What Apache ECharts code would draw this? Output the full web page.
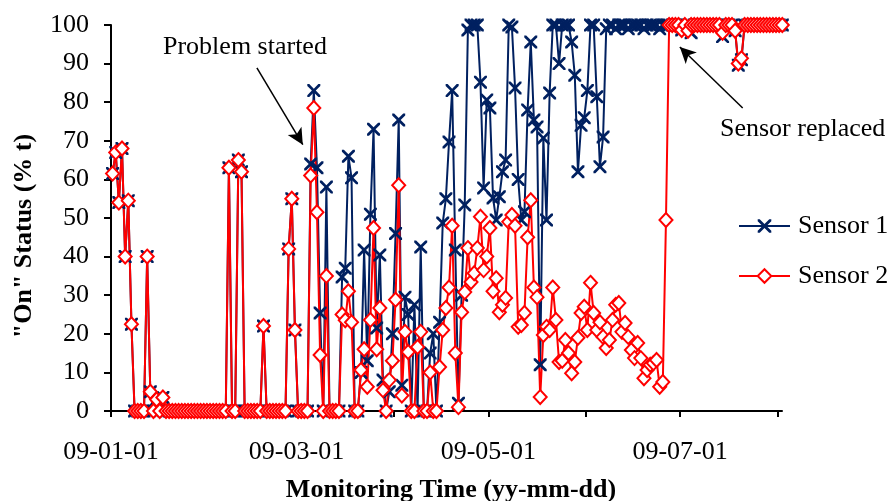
<!DOCTYPE html>
<html>
<head>
<meta charset="utf-8">
<script src="https://cdn.jsdelivr.net/npm/echarts@6/dist/echarts.min.js"></script>
<style>
  html, body { margin: 0; padding: 0; background: #fff; }
  #chart { width: 891px; height: 501px; }
</style>
</head>
<body>
<div id="chart"></div>
<script>
// daily readings starting 2009-01-01
const startDate = Date.UTC(2009, 0, 1);
const DAY = 86400000;

const sensor1 = [
  61.5, 67, 54, 68, 40, 54.5, 22.5, 0, 0, 0,
  0, 40, 5, 0, 3, 0, 3.5, 0, 0, 0,
  0, 0, 0, 0, 0, 0, 0, 0, 0, 0,
  0, 0, 0, 0, 0, 0, 0, 63, 0, 0,
  65, 62, 0, 0, 0, 0, 0, 0, 22, 0,
  0, 0, 0, 0, 0, 0, 42, 55, 21, 0,
  0, 0, 0, 64, 83, 63, 25.4, 0, 58, 0,
  0, 0, 0, 34.7, 37, 66, 60.4, 0, 0, 10,
  41.7, 13, 51, 73, 21.5, 40.4, 8, 0, 5, 20,
  46, 75.4, 6.7, 29.5, 25, 0, 27.5, 0, 42.5, 0,
  0, 15, 20, 0, 23, 48.7, 55, 69.7, 83, 41.7,
  2, 30, 53.4, 98.7, 100, 100, 100, 85.2, 57.8, 80.6,
  78.5, 55.2, 49.5, 55.5, 62, 65, 100, 99.5, 83.7, 60,
  49.5, 51.6, 78, 95.6, 75.4, 73.6, 12, 70.7, 49.5, 82.4,
  100, 100, 90, 100, 100, 100, 95.6, 87, 62, 74,
  76, 83, 100, 100, 81.4, 63.3, 71, 99, 100, 100,
  99, 100, 100, 100, 99, 100, 100, 100, 100, 99,
  100, 100, 100, 100, 99, 100, 100, 100, 100, 100,
  100, 98.7, 100, 100, 98, 100, 100, 100, 100, 100,
  100, 100, 100, 100, 97, 100, 100, 100, 98.5, 89.6,
  91, 100, 100, 100, 100, 100, 100, 100, 100, 100,
  100, 100, 100, 100
];

const sensor2 = [
  61.5, 67, 54, 68, 40, 54.5, 22.5, 0, 0, 0,
  0, 40, 5, 0, 3, 0, 3.5, 0, 0, 0,
  0, 0, 0, 0, 0, 0, 0, 0, 0, 0,
  0, 0, 0, 0, 0, 0, 0, 63, 0, 0,
  65, 62, 0, 0, 0, 0, 0, 0, 22, 0,
  0, 0, 0, 0, 0, 0, 42, 55, 21, 0,
  0, 0, 0, 61, 78.5, 51.5, 14.5, 0, 35, 0,
  0, 0, 0, 25, 23.5, 31, 23, 0, 0, 10.6,
  16, 6.3, 23.6, 47.4, 16, 26.7, 5.4, 0, 8, 13,
  28.8, 58.5, 4, 20.5, 15.3, 0, 0, 16.6, 20.5, 0,
  0, 10, 0, 0, 11.4, 21, 26.7, 32, 48, 15,
  1, 25.6, 30.8, 42.2, 33.4, 35.7, 42.2, 50.3, 36.5, 40,
  47.4, 31, 34.4, 25.6, 27.5, 29.3, 49, 50.8, 48, 21.8,
  22.3, 25.4, 45, 54.6, 32, 29.5, 3.6, 19.7, 21.8, 21,
  32, 23.6, 12.7, 13, 18.4, 15, 9.8, 12.7, 19, 25.4,
  27, 21, 33.2, 25.4, 21, 23, 19.2, 16.3, 18.4, 23.6,
  27.5, 28, 20.5, 22.8, 19.2, 15.8, 13.7, 17.6, 13.7, 8.5,
  10.6, 12, 12.4, 13.2, 6.3, 7.5, 49.5, 100, 100, 100,
  100, 98.7, 100, 98.5, 100, 100, 100, 100, 100, 100,
  100, 100, 100, 100, 98, 100, 100, 100, 98.5, 90,
  91.4, 100, 100, 100, 100, 100, 100, 100, 100, 100,
  100, 100, 100, 100
];

const yTicks = [0, 10, 20, 30, 40, 50, 60, 70, 80, 90, 100];
const tickMonths = [0, 1, 2, 3, 4, 5, 6, 7];   // month starts with a tick
const labelMonths = [0, 2, 4, 6];              // month starts with a label

const seriesNames = ['Sensor 1', 'Sensor 2'];

// annotation arrows, in [day offset, value]
const arrowProblem = [[46.4, 88.9], [61.0, 69.0]];
const arrowReplaced = [[200.9, 78.5], [180.9, 94.3]];

const monthTs = m => Date.UTC(2009, m, 1);
const dayTs = d => startDate + d * DAY;

const pts1 = sensor1.map((v, i) => [dayTs(i + 0.5), v]);
const pts2 = sensor2.map((v, i) => [dayTs(i + 0.5), v]);

const pad = n => String(n).padStart(2, '0');
const fmtDate = v => {
  const d = new Date(v);
  return pad(d.getUTCFullYear() % 100) + '-' + pad(d.getUTCMonth() + 1) + '-' + pad(d.getUTCDate());
};

const FONT = '"Liberation Serif", "Times New Roman", serif';
const xPath = 'path://M0,0L3,0L10,7L17,0L20,0L20,3L13,10L20,17L20,20L17,20L10,13L3,20L0,20L0,17L7,10L0,3Z';

const arrowLine = a => [
  { coord: [dayTs(a[0][0]), a[0][1]], symbol: 'none' },
  { coord: [dayTs(a[1][0]), a[1][1]], symbol: 'arrow' }
];

const chart = echarts.init(document.getElementById('chart'));
chart.setOption({
  animation: false,
  backgroundColor: '#fff',
  grid: { left: 111, right: 109, top: 25, bottom: 90, containLabel: false },
  legend: {
    data: seriesNames,
    orient: 'vertical',
    left: 733,
    top: 207,
    itemWidth: 51,
    itemHeight: 17,
    itemGap: 22,
    textStyle: { fontFamily: FONT, fontSize: 26, color: '#000', lineHeight: 28, padding: [0, 0, 0, 3] }
  },
  xAxis: {
    type: 'value',
    min: startDate,
    max: dayTs(213.4),
    axisLine: { lineStyle: { color: '#000', width: 2 } },
    axisTick: { show: true, length: 6, lineStyle: { color: '#000', width: 2 }, customValues: tickMonths.map(monthTs) },
    axisLabel: {
      customValues: labelMonths.map(monthTs),
      formatter: fmtDate,
      fontFamily: FONT, fontSize: 26, color: '#000', margin: 28
    },
    splitLine: { show: false }
  },
  yAxis: {
    type: 'value',
    min: yTicks[0],
    max: yTicks[yTicks.length - 1],
    interval: 10,
    axisLine: { show: true, lineStyle: { color: '#000', width: 2 } },
    axisTick: { show: true, length: 7, lineStyle: { color: '#000', width: 2 } },
    axisLabel: { fontFamily: FONT, fontSize: 26, color: '#000', margin: 22 },
    splitLine: { show: false }
  },
  series: [
    {
      name: seriesNames[0],
      type: 'line',
      data: pts1,
      clip: false,
      symbol: xPath,
      symbolSize: 13,
      lineStyle: { color: '#002060', width: 2 },
      itemStyle: { color: '#002060' }
    },
    {
      name: seriesNames[1],
      type: 'line',
      data: pts2,
      clip: false,
      symbol: 'diamond',
      symbolSize: [13, 14],
      lineStyle: { color: '#ff0000', width: 2 },
      itemStyle: { color: '#fff', borderColor: '#ff0000', borderWidth: 2 },
      markLine: {
        silent: true,
        symbolSize: [12, 16],
        label: { show: false },
        lineStyle: { color: '#000', width: 1.5, type: 'solid' },
        data: [arrowLine(arrowProblem), arrowLine(arrowReplaced)]
      }
    }
  ],
  graphic: [
    {
      type: 'text', silent: true,
      style: { x: 163, y: 47, text: 'Problem started', font: '26px ' + FONT, fill: '#000', textVerticalAlign: 'middle' }
    },
    {
      type: 'text', silent: true,
      style: { x: 720, y: 129, text: 'Sensor replaced', font: '26px ' + FONT, fill: '#000', textVerticalAlign: 'middle' }
    },
    {
      type: 'text', silent: true, x: 24, y: 236, rotation: Math.PI / 2,
      style: { x: 0, y: 0, text: '"On" Status (% t)', font: 'bold 26px ' + FONT, fill: '#000', textAlign: 'center', textVerticalAlign: 'middle' }
    },
    {
      type: 'text', silent: true,
      style: { x: 451, y: 490, text: 'Monitoring Time (yy-mm-dd)', font: 'bold 26px ' + FONT, fill: '#000', textAlign: 'center', textVerticalAlign: 'middle' }
    }
  ]
});
</script>
</body>
</html>
